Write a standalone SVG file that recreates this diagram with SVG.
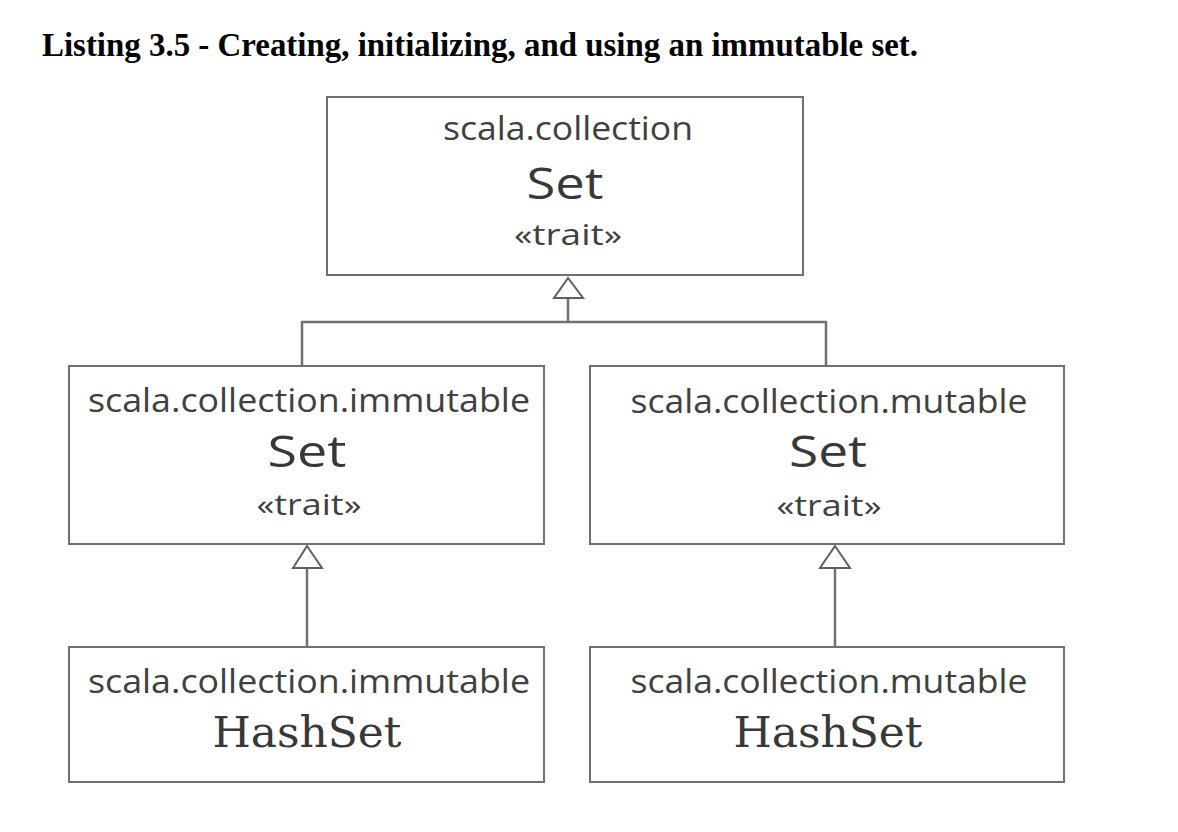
<svg xmlns="http://www.w3.org/2000/svg" width="1178" height="832" viewBox="0 0 1178 832">
<style>
.box{fill:#fff;stroke:#707070;stroke-width:2}
.pkg{font-family:"Open Sans","Noto Sans",sans-serif;font-size:33px;fill:#404040;text-anchor:middle}
.name{font-family:"Open Sans","Noto Sans",sans-serif;font-size:43px;fill:#383838;text-anchor:middle}
.ster{font-family:"Open Sans","Noto Sans",sans-serif;font-size:30px;fill:#404040;text-anchor:middle}
.cls{font-family:"DejaVu Serif",serif;font-size:42px;fill:#383838;text-anchor:middle}
.title{font-family:"Liberation Serif",serif;font-weight:bold;font-size:34px;fill:#000}
.conn{fill:none;stroke:#707070;stroke-width:2.5}
.head{fill:#fff;stroke:#606060;stroke-width:2}
</style>
<rect width="1178" height="832" fill="#fff"/>
<text class="title" x="42" y="56" textLength="876" lengthAdjust="spacingAndGlyphs">Listing 3.5 - Creating, initializing, and using an immutable set.</text>
<g id="connectors">
<path class="conn" d="M568,298 V322 M302,366 V322 H826 V366"/>
<polygon class="head" points="568,278 554,298 583,298"/>
<path class="conn" d="M307,568 V647"/>
<polygon class="head" points="307,546 293,568 322,568"/>
<path class="conn" d="M835,568 V647"/>
<polygon class="head" points="835,546 820,568 850,568"/>
</g>
<g id="collection-set">
<rect class="box" x="327" y="97" width="476" height="178"/>
<text class="pkg" x="568" y="140" textLength="250" lengthAdjust="spacingAndGlyphs">scala.collection</text>
<text class="name" x="565" y="199" textLength="77" lengthAdjust="spacingAndGlyphs">Set</text>
<text class="ster" x="568" y="245" textLength="108" lengthAdjust="spacingAndGlyphs">«trait»</text>
</g>
<g id="immutable-set">
<rect class="box" x="69" y="366" width="475" height="178"/>
<text class="pkg" x="309" y="412" textLength="442" lengthAdjust="spacingAndGlyphs">scala.collection.immutable</text>
<text class="name" x="307" y="467" textLength="79" lengthAdjust="spacingAndGlyphs">Set</text>
<text class="ster" x="309" y="515" textLength="105" lengthAdjust="spacingAndGlyphs">«trait»</text>
</g>
<g id="mutable-set">
<rect class="box" x="590" y="366" width="474" height="178"/>
<text class="pkg" x="829" y="413" textLength="397" lengthAdjust="spacingAndGlyphs">scala.collection.mutable</text>
<text class="name" x="828" y="467" textLength="78" lengthAdjust="spacingAndGlyphs">Set</text>
<text class="ster" x="829" y="516" textLength="105" lengthAdjust="spacingAndGlyphs">«trait»</text>
</g>
<g id="immutable-hashset">
<rect class="box" x="69" y="647" width="475" height="135"/>
<text class="pkg" x="309" y="693" textLength="442" lengthAdjust="spacingAndGlyphs">scala.collection.immutable</text>
<text class="cls" x="307" y="747" textLength="189" lengthAdjust="spacingAndGlyphs">HashSet</text>
</g>
<g id="mutable-hashset">
<rect class="box" x="590" y="647" width="474" height="135"/>
<text class="pkg" x="829" y="693" textLength="397" lengthAdjust="spacingAndGlyphs">scala.collection.mutable</text>
<text class="cls" x="828" y="747" textLength="189" lengthAdjust="spacingAndGlyphs">HashSet</text>
</g>
</svg>
